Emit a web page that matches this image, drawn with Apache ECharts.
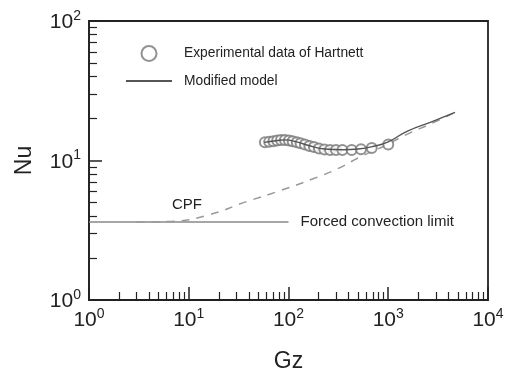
<!DOCTYPE html>
<html>
<head>
<meta charset="utf-8">
<script src="https://cdn.jsdelivr.net/npm/echarts@6/dist/echarts.min.js"></script>
<style>
  html, body { margin: 0; padding: 0; background: #fff; }
  #chart { width: 510px; height: 378px; }
</style>
</head>
<body>
<div id="chart"></div>
<script>
// Hartnett experimental data (Gz, Nu)
const expData = [
  [58, 13.5], [64, 13.6], [70.5, 13.75], [77, 13.9], [84, 14.0], [92, 14.0],
  [101, 13.9], [110, 13.75], [121, 13.5], [132, 13.3], [146, 13.0], [162, 12.7],
  [180, 12.5], [202, 12.2], [229, 12.0], [261, 11.9], [299, 11.9], [347, 11.9],
  [430, 11.9], [533, 12.05], [683, 12.3], [1000, 13.0]
]
// modified model curve
const modelData = [
  [57, 13.5], [75, 13.85], [92, 14.05], [120, 13.6], [160, 12.8], [230, 12.1],
  [350, 11.95], [500, 12.1], [700, 12.6], [1000, 13.6], [1540, 16.2],
  [2800, 19.1], [4670, 22.1]
]
// CPF curve (dashed)
const cpfData = [
  [3, 3.62], [6.5, 3.66], [15, 4.03], [38, 5.07], [82, 6.07], [176, 7.39],
  [308, 8.7], [522, 10.6], [870, 12.5], [1540, 15.4], [2800, 18.6], [4670, 22.1]
]
// forced convection limit
const forcedData = [[1, 3.62], [100, 3.62]]

const xMinorTicks = []
const yMinorTicks = []
;[1, 10, 100, 1000].forEach(d => { for (let k = 2; k <= 9; k++) xMinorTicks.push(k * d) })
;[1, 10].forEach(d => { for (let k = 2; k <= 9; k++) yMinorTicks.push(k * d) })

const FONT = 'Liberation Sans'
const INK = '#222'

const powLabel = v => '{b|10}{s|' + Math.round(Math.log10(v)) + '}'
const powRich = {
  b: { fontSize: 21, fontFamily: FONT, color: INK, verticalAlign: 'bottom', lineHeight: 24 },
  s: { fontSize: 14, fontFamily: FONT, color: INK, verticalAlign: 'top', lineHeight: 14 }
}

const chart = echarts.init(document.getElementById('chart'))

const option = {
  backgroundColor: '#fff',
  animation: false,
  textStyle: { fontFamily: FONT },
  grid: { left: 89, right: 22, top: 21, bottom: 76, show: true, borderColor: '#222', borderWidth: 1.8 },
  legend: {
    orient: 'vertical',
    left: 120,
    top: 40,
    itemWidth: 46,
    itemHeight: 15,
    itemGap: 12,
    data: [
      { name: 'Experimental data of Hartnett' },
      { name: 'Modified model', itemStyle: { opacity: 0 } }
    ],
    textStyle: { fontSize: 13.8, color: INK, fontFamily: FONT, padding: [0, 0, 0, 7] }
  },
  xAxis: [
    {
      type: 'log', logBase: 10, min: 1, max: 10000,
      name: 'Gz', nameLocation: 'middle', nameGap: 50,
      nameTextStyle: { fontSize: 23, color: INK, fontFamily: FONT },
      axisLine: { lineStyle: { color: '#222', width: 1.5 } },
      axisTick: { inside: true, length: 13, lineStyle: { color: '#222', width: 1.5 } },
      axisLabel: { margin: 7, formatter: powLabel, rich: powRich },
      splitLine: { show: false }
    },
    {
      type: 'log', logBase: 10, min: 1, max: 10000, gridIndex: 0, position: 'bottom',
      axisLine: { show: false },
      axisTick: { inside: true, length: 8, customValues: xMinorTicks, lineStyle: { color: '#222', width: 1.2 } },
      axisLabel: { show: false },
      splitLine: { show: false }
    }
  ],
  yAxis: [
    {
      type: 'log', logBase: 10, min: 1, max: 100,
      name: 'Nu', nameLocation: 'middle', nameGap: 53,
      nameTextStyle: { fontSize: 23, color: INK, fontFamily: FONT },
      axisLine: { lineStyle: { color: '#222', width: 1.5 } },
      axisTick: { inside: true, length: 13, lineStyle: { color: '#222', width: 1.5 } },
      axisLabel: { margin: 8, formatter: powLabel, rich: powRich },
      splitLine: { show: false }
    },
    {
      type: 'log', logBase: 10, min: 1, max: 100, gridIndex: 0, position: 'left',
      axisLine: { show: false },
      axisTick: { inside: true, length: 8, customValues: yMinorTicks, lineStyle: { color: '#222', width: 1.2 } },
      axisLabel: { show: false },
      splitLine: { show: false }
    }
  ],
  series: [
    {
      name: 'Forced convection limit',
      type: 'line',
      data: forcedData,
      symbol: 'none',
      lineStyle: { color: '#888', width: 1.5 },
      endLabel: { show: true, formatter: 'Forced convection limit', distance: 12, fontSize: 15, color: INK, fontFamily: FONT },
      z: 2
    },
    {
      name: 'CPF',
      type: 'line',
      data: cpfData,
      smooth: true,
      symbol: 'none',
      lineStyle: { color: '#999', width: 1.5, type: [8, 7] },
      markPoint: {
        symbol: 'circle', symbolSize: 0,
        label: { show: true, formatter: 'CPF', fontSize: 15, color: INK, fontFamily: FONT },
        data: [{ coord: [9.6, 4.82] }]
      },
      z: 2
    },
    {
      name: 'Experimental data of Hartnett',
      type: 'scatter',
      data: expData,
      symbol: 'emptyCircle',
      symbolSize: 10,
      itemStyle: { color: '#777', borderColor: '#777', borderWidth: 0.9 },
      z: 3
    },
    {
      name: 'Modified model',
      type: 'line',
      data: modelData,
      smooth: true,
      symbol: 'none',
      itemStyle: { color: '#555' },
      lineStyle: { color: '#555', width: 1.4 },
      z: 4
    }
  ]
}

chart.setOption(option)
</script>
</body>
</html>
